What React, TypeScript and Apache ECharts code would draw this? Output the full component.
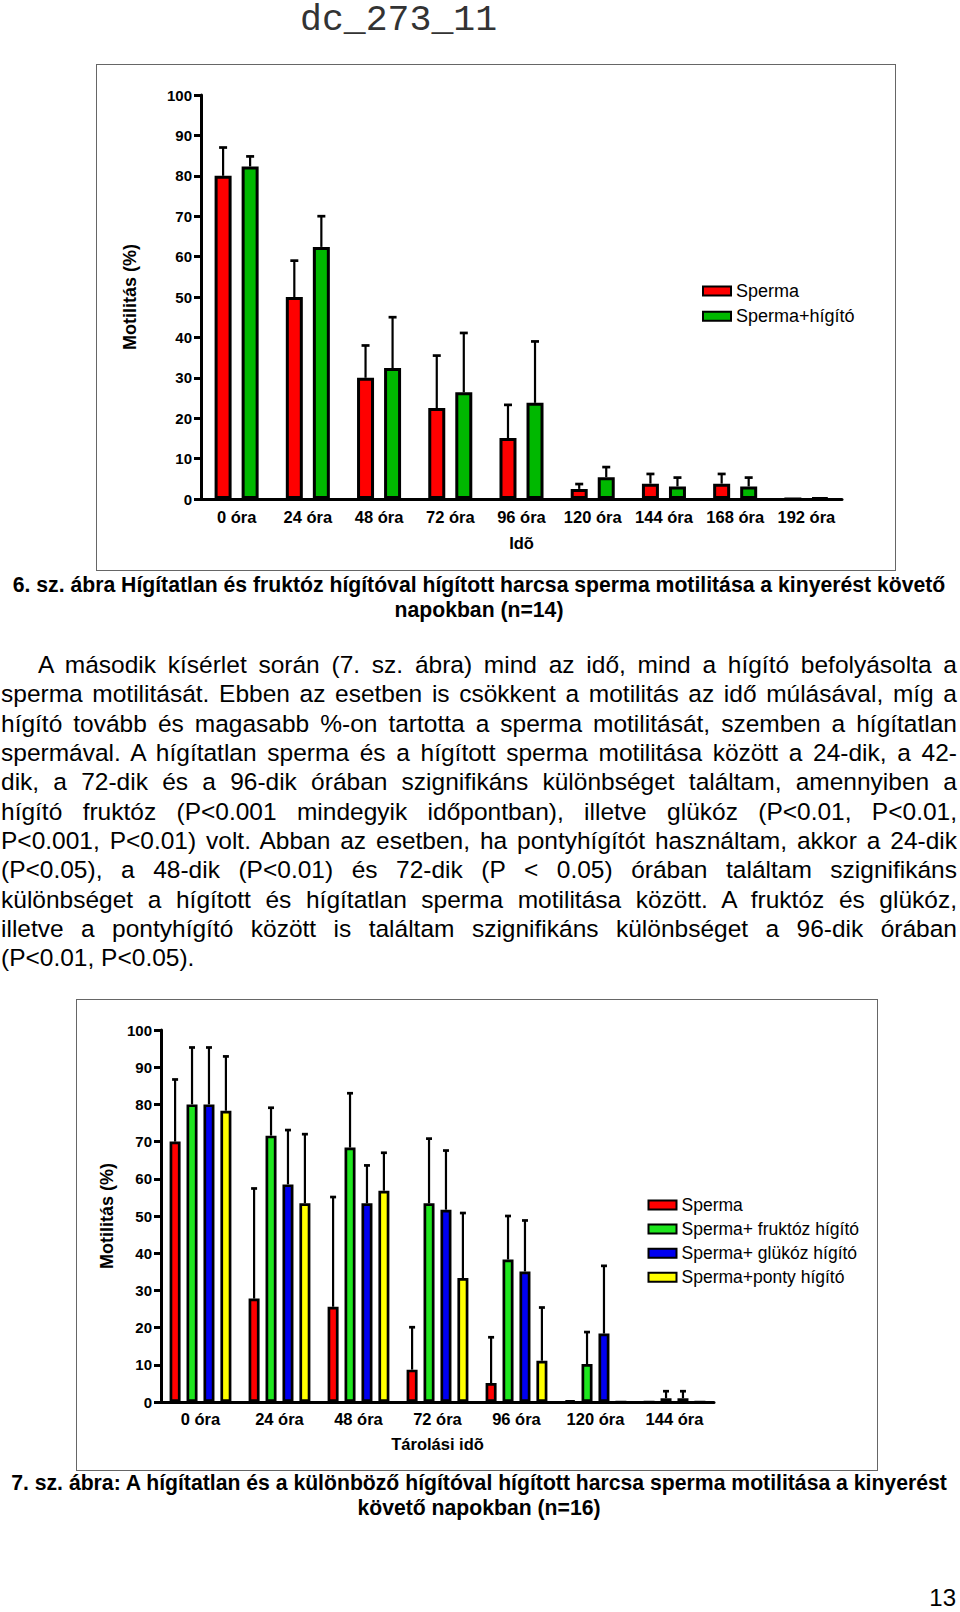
import React, { useEffect, useRef } from "react";
import * as echarts from "echarts";

// ---------- data ----------
const hours1 = ["0 óra", "24 óra", "48 óra", "72 óra", "96 óra", "120 óra", "144 óra", "168 óra", "192 óra"];
const sperma1 = [80, 50, 30, 22.5, 15.1, 2.5, 3.8, 3.8, 0];
const sperma1Top = [87, 59, 38, 35.5, 23.3, 3.7, 6.2, 6.2, null];
const higito1 = [82.3, 62.4, 32.4, 26.4, 23.8, 5.4, 3.1, 3.1, 0.3];
const higito1Top = [84.8, 70, 45, 41.1, 39, 7.9, 5.3, 5.3, null];
const legend1 = ["Sperma", "Sperma+hígító"];

const hours2 = ["0 óra", "24 óra", "48 óra", "72 óra", "96 óra", "120 óra", "144 óra"];
const sperma2 = [70, 27.8, 25.6, 8.7, 5.1, 0.4, 0];
const sperma2Top = [86.7, 57.4, 55.1, 20.1, 17.4, null, null];
const fruktoz2 = [80, 71.6, 68.4, 53.4, 38.3, 10.2, 1.0];
const fruktoz2Top = [95.3, 79.1, 83.0, 70.8, 50.0, 18.8, 2.9];
const glukoz2 = [80, 58.5, 53.4, 51.7, 35.1, 18.4, 1.0];
const glukoz2Top = [95.3, 73.1, 63.6, 67.6, 48.8, 36.6, 2.9];
const ponty2 = [78.3, 53.4, 56.8, 33.3, 11.1, 0, 0];
const ponty2Top = [92.9, 72.0, 67.0, 50.8, 25.4, null, null];
const legend2 = ["Sperma", "Sperma+ fruktóz hígító", "Sperma+ glükóz hígító", "Sperma+ponty hígító"];

const yTicks = { min: 0, max: 100, interval: 10 };

const paragraph = [
  "A második kísérlet során (7. sz. ábra) mind az idő, mind a hígító befolyásolta a",
  "sperma motilitását. Ebben az esetben is csökkent a motilitás az idő múlásával, míg a",
  "hígító tovább és magasabb %-on tartotta a sperma motilitását, szemben a hígítatlan",
  "spermával. A hígítatlan sperma és a hígított sperma motilitása között a 24-dik, a 42-",
  "dik, a 72-dik és a 96-dik órában szignifikáns különbséget találtam, amennyiben a",
  "hígító fruktóz (P<0.001 mindegyik időpontban), illetve glükóz (P<0.01, P<0.01,",
  "P<0.001, P<0.01) volt. Abban az esetben, ha pontyhígítót használtam, akkor a 24-dik",
  "(P<0.05), a 48-dik (P<0.01) és 72-dik (P < 0.05) órában találtam szignifikáns",
  "különbséget a hígított és hígítatlan sperma motilitása között. A fruktóz és glükóz,",
  "illetve a pontyhígító között is találtam szignifikáns különbséget a 96-dik órában",
  "(P<0.01, P<0.05).",
];
const caption1 = [
  "6. sz. ábra Hígítatlan és fruktóz hígítóval hígított harcsa sperma motilitása a kinyerést követő",
  "napokban (n=14)",
];
const caption2 = [
  "7. sz. ábra: A hígítatlan és a különböző hígítóval hígított harcsa sperma motilitása a kinyerést",
  "követő napokban (n=16)",
];

// ---------- helpers ----------
const FONT = "'Liberation Sans', Arial, sans-serif";

function errorBars(values: number[], tops: (number | null)[], index: number, count: number,
  barWidth: number, gapRatio: number, capHalf: number, lw: number) {
  const step = barWidth * (1 + gapRatio);
  const offset = (index - (count - 1) / 2) * step;
  return {
    type: "custom",
    z: 5,
    silent: true,
    data: values.map((v, i) => [i, v, tops[i] == null ? NaN : tops[i]]),
    renderItem: (_params: any, api: any) => {
      const i = api.value(0);
      const v = api.value(1);
      const t = api.value(2);
      if (!(t > v)) return { type: "group", children: [] };
      const p0 = api.coord([i, v]);
      const p1 = api.coord([i, t]);
      const x = p0[0] + offset;
      return {
        type: "group",
        children: [
          { type: "line", shape: { x1: x, y1: p0[1], x2: x, y2: p1[1] }, style: { stroke: "#000", lineWidth: lw } },
          { type: "line", shape: { x1: x - capHalf, y1: p1[1], x2: x + capHalf, y2: p1[1] }, style: { stroke: "#000", lineWidth: lw + 0.5 } },
        ],
      };
    },
  };
}

function axes(cats: string[], xName: string, xNameGap: number, yNameGap: number, xMargin: number) {
  const lbl = { fontFamily: FONT, fontWeight: "bold", color: "#000" };
  return {
    xAxis: {
      type: "category",
      data: cats,
      axisLine: { lineStyle: { color: "#000", width: 3 } },
      axisTick: { alignWithLabel: true, length: 6, lineStyle: { color: "#000", width: 3 } },
      axisLabel: { ...lbl, fontSize: 16.5, margin: xMargin, interval: 0 },
      name: xName,
      nameLocation: "middle",
      nameGap: xNameGap,
      nameTextStyle: { ...lbl, fontSize: 16.5 },
      splitLine: { show: false },
    },
    yAxis: {
      type: "value",
      ...yTicks,
      axisLine: { show: true, lineStyle: { color: "#000", width: 3 } },
      axisTick: { show: true, length: 7, lineStyle: { color: "#000", width: 3 } },
      axisLabel: { ...lbl, fontSize: 15, margin: 9 },
      splitLine: { show: false },
      name: "Motilitás (%)",
      nameLocation: "middle",
      nameGap: yNameGap,
      nameTextStyle: { ...lbl, fontSize: 18 },
    },
  };
}

function barSeries(name: string, data: number[], color: string, barWidth: number, gap: string, bw: number) {
  return {
    type: "bar",
    name,
    data,
    barWidth,
    barGap: gap,
    itemStyle: { color, borderColor: "#000", borderWidth: bw },
  };
}

// chart 1
const BW1 = 17, GAP1 = 0.59;
const option1 = {
  animation: false,
  grid: { left: 104, top: 30, width: 641, height: 404 },
  legend: {
    orient: "vertical", left: 600, top: 211, itemWidth: 28, itemHeight: 9, itemGap: 5.2, itemTextGap: 8,
    icon: "rect", data: legend1,
    textStyle: { fontFamily: FONT, fontSize: 18, color: "#000", lineHeight: 20 },
  },
  ...axes(hours1, "Idõ", 35, 62, 9),
  series: [
    barSeries(legend1[0], sperma1, "#ff0000", BW1, "59%", 3),
    barSeries(legend1[1], higito1, "#00b800", BW1, "59%", 3),
    errorBars(sperma1, sperma1Top, 0, 2, BW1, GAP1, 4, 2.2),
    errorBars(higito1, higito1Top, 1, 2, BW1, GAP1, 4, 2.2),
  ],
};

// chart 2
const BW2 = 11, GAP2 = 0.54;
const option2 = {
  animation: false,
  grid: { left: 84, top: 30, width: 553, height: 372 },
  legend: {
    orient: "vertical", left: 565.5, top: 190, itemWidth: 28, itemHeight: 9, itemGap: 4.1, itemTextGap: 7,
    icon: "rect", data: legend2,
    textStyle: { fontFamily: FONT, fontSize: 17.5, color: "#000", lineHeight: 20 },
  },
  ...axes(hours2, "Tárolási idõ", 33, 45, 8.5),
  series: [
    barSeries(legend2[0], sperma2, "#ff0000", BW2, "54%", 2.7),
    barSeries(legend2[1], fruktoz2, "#1ee61e", BW2, "54%", 2.7),
    barSeries(legend2[2], glukoz2, "#0000f0", BW2, "54%", 2.7),
    barSeries(legend2[3], ponty2, "#ffff00", BW2, "54%", 2.7),
    errorBars(sperma2, sperma2Top, 0, 4, BW2, GAP2, 3, 2.2),
    errorBars(fruktoz2, fruktoz2Top, 1, 4, BW2, GAP2, 3, 2.2),
    errorBars(glukoz2, glukoz2Top, 2, 4, BW2, GAP2, 3, 2.2),
    errorBars(ponty2, ponty2Top, 3, 4, BW2, GAP2, 3, 2.2),
  ],
};

function EChart({ option, left, top, width, height }: any) {
  const ref = useRef<HTMLDivElement>(null);
  useEffect(() => {
    const chart = echarts.init(ref.current!, null, { renderer: "svg" });
    chart.setOption(option);
    return () => chart.dispose();
  }, []);
  return (
    <>
      <div ref={ref} style={{ position: "absolute", left, top, width, height }} />
      <div style={{ position: "absolute", left: left - 0.75, top: top - 0.75, width: width + 0.5, height: height + 0.5, border: "1.5px solid #666", boxSizing: "border-box", pointerEvents: "none" }} />
    </>
  );
}

export default function App() {
  const PL = 29.29;
  return (
    <div style={{ position: "absolute", left: 0, top: 0, width: 960, height: 1612, overflow: "hidden", background: "#fff", fontFamily: FONT, color: "#000" }}>
      <div style={{ position: "absolute", left: 300, top: 2.5, fontFamily: "'Liberation Mono', 'Courier New', monospace", fontSize: 36.5, lineHeight: "36.5px", color: "#333", whiteSpace: "nowrap" }}>dc_273_11</div>

      <EChart option={option1} left={97} top={65} width={799} height={506} />

      {caption1.map((t, i) => (
        <div key={"c1" + i} style={{ position: "absolute", left: 0, width: 958, top: 573.2 + i * 25, fontSize: 21.2, lineHeight: "24.5px", fontWeight: "bold", textAlign: "center", whiteSpace: "nowrap" }}>{t}</div>
      ))}

      {paragraph.map((t, i) => {
        const last = i === paragraph.length - 1;
        return (
          <div key={"p" + i} style={{ position: "absolute", left: 1, width: 956, top: 650.2 + i * PL, fontSize: 24.5, lineHeight: PL + "px", textAlign: last ? "left" : "justify", textAlignLast: last ? "left" : "justify", paddingLeft: i === 0 ? 37 : 0, boxSizing: "border-box" } as any}>{t}</div>
        );
      })}

      <EChart option={option2} left={77} top={1000} width={801} height={471} />

      {caption2.map((t, i) => (
        <div key={"c2" + i} style={{ position: "absolute", left: 0, width: 958, top: 1470.5 + i * 25, fontSize: 21.2, lineHeight: "24.5px", fontWeight: "bold", textAlign: "center", whiteSpace: "nowrap" }}>{t}</div>
      ))}

      <div style={{ position: "absolute", left: 880, width: 76, top: 1588.2, fontSize: 24, lineHeight: "20px", textAlign: "right" }}>13</div>
    </div>
  );
}
